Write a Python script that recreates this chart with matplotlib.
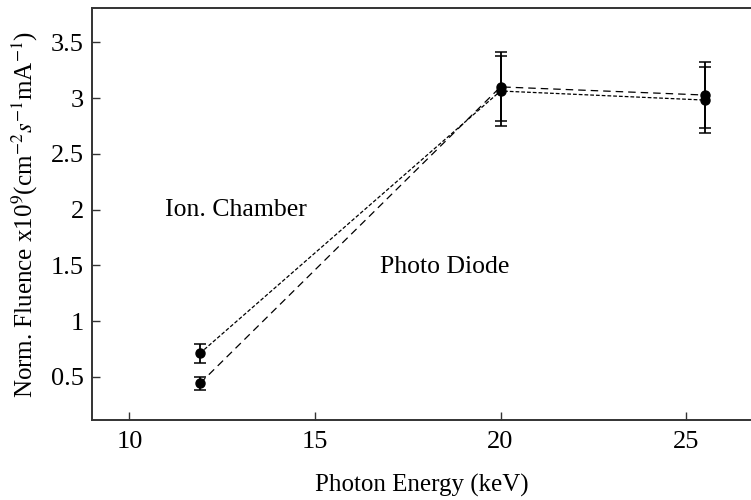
import matplotlib
matplotlib.use("Agg")
import matplotlib.pyplot as plt

energy = [11.9, 20.0, 25.5]
ion_chamber = [0.71, 3.063, 2.982]
ion_chamber_err = [0.085, 0.31, 0.30]
photo_diode = [0.44, 3.10, 3.027]
photo_diode_err = [0.055, 0.31, 0.30]

xticks = [10, 15, 20, 25]
yticks = [0.5, 1, 1.5, 2, 2.5, 3, 3.5]
yticklabels = ["0.5", "1", "1.5", "2", "2.5", "3", "3.5"]

plt.rcParams['font.family'] = ['Liberation Serif', 'DejaVu Serif']
plt.rcParams['mathtext.fontset'] = 'stix'

fig = plt.figure(figsize=(7.51, 5.0), dpi=100)
ax = fig.add_axes([92.3 / 751, 1 - 420 / 500, 1 - 92.3 / 751, (420 - 8.3) / 500])

ax.errorbar(energy, ion_chamber, yerr=ion_chamber_err, fmt='o', color='black',
            linestyle=(0, (3, 1.6)), linewidth=0.9, markersize=6.5,
            elinewidth=1.3, capsize=4, capthick=1.1, ecolor='black')
ax.errorbar(energy, photo_diode, yerr=photo_diode_err, fmt='o', color='black',
            linestyle=(0, (6, 4)), linewidth=0.9, markersize=6.5,
            elinewidth=1.3, capsize=4, capthick=1.1, ecolor='black')

ax.text(10.96, 2.0, "Ion. Chamber", fontsize=18.5, va='center', ha='left')
ax.text(16.75, 1.484, "Photo Diode", fontsize=18.5, va='center', ha='left')

ax.set_xlim(9, 26.75)
ax.set_ylim(0.112, 3.805)
ax.set_xticks(xticks)
ax.set_xticklabels([str(t) for t in xticks])
ax.set_yticks(yticks)
ax.set_yticklabels(yticklabels)
ax.tick_params(direction='in', length=6, width=1, labelsize=19, pad=6,
               color='#333333')
ax.tick_params(axis='x', pad=8)

for s in ['left', 'top', 'bottom']:
    ax.spines[s].set_linewidth(1.4)
    ax.spines[s].set_color('#333333')
ax.spines['right'].set_visible(False)

ax.set_xlabel("Photon Energy (keV)", fontsize=18, labelpad=15)
ax.set_ylabel(r"Norm. Fluence x10$^{9}$(cm$^{-2}$$s^{-1}$mA$^{-1}$)", fontsize=18,
              labelpad=8)

fig.savefig("out.png", dpi=100)
